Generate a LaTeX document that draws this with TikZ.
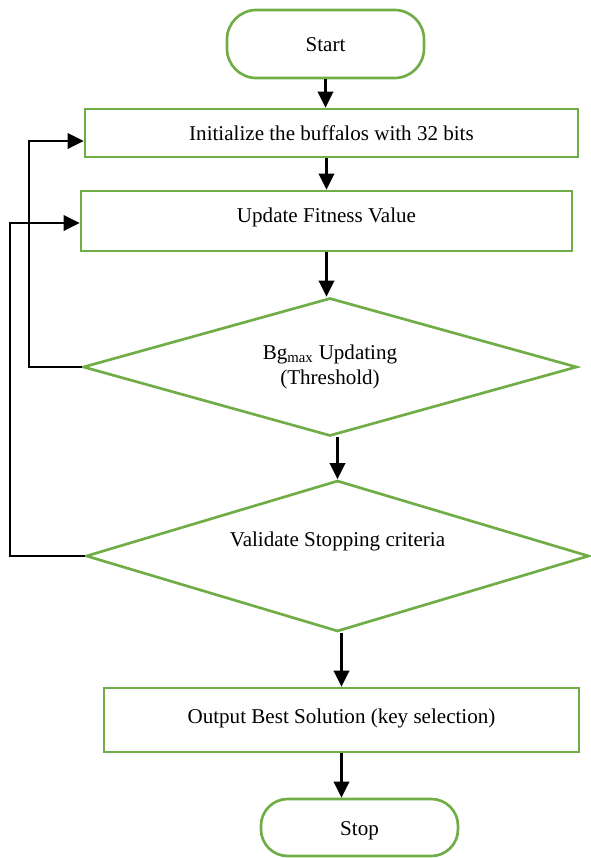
\documentclass[tikz,border=0pt]{standalone}
\usepackage{fontspec}
\setmainfont{Liberation Serif}
\usetikzlibrary{arrows.meta,shapes.geometric}
\definecolor{boxgreen}{HTML}{70AD47}
\begin{document}
\begin{tikzpicture}[x=0.75pt,y=-0.75pt,
  every node/.style={font=\fontsize{15.8}{19}\selectfont, inner sep=0pt},
  oneline/.style={text height=15pt, text depth=3.5pt},
  term/.style={draw=boxgreen, line width=2pt, rectangle, rounded corners=22pt, minimum width=147.75pt, oneline},
  proc/.style={draw=boxgreen, line width=2pt, rectangle, oneline},
  dec/.style={draw=boxgreen, line width=2pt, diamond, align=center},
  arr/.style={draw=black, line width=2pt, -{Triangle[length=12pt,width=11.5pt]}}]
\useasboundingbox (0,0) rectangle (590,858);
\node[term, minimum height=51pt] (start) at (325.5,44) {Start};
\node[proc, minimum width=369.75pt, minimum height=36pt] (b1) at (331.5,133) {Initialize the buffalos with 32 bits};
\node[proc, minimum width=368.25pt, minimum height=45pt, text depth=12.5pt] (b2) at (326.5,221) {Update Fitness Value};
\node[dec, minimum width=370.5pt, minimum height=103.5pt, aspect=3.58] (d1) at (330,367) {Bg\textsubscript{max} Updating\\(Threshold)};
\node[dec, minimum width=377.25pt, minimum height=113.25pt, aspect=3.34, oneline, text depth=29pt] (d2) at (337.5,556) {Validate Stopping criteria};
\node[proc, minimum width=356.25pt, minimum height=48pt, text depth=9.5pt] (b3) at (341.5,720) {Output Best Solution (key selection)};
\node[term, minimum height=42.75pt, rounded corners=20pt] (stop) at (359.5,827.5) {Stop};
\coordinate (lt1) at (29,141);
\coordinate (lt2) at (10,223);
\draw[arr] (start.south) -- (start.south |- b1.north);
\draw[arr] (b2.north |- b1.south) -- (b2.north);
\draw[arr] (b2.south) -- (b2.south |- d1.north);
\draw[arr] (d2.north |- d1.south) -- (d2.north);
\draw[arr] (b3.north |- d2.south) -- (b3.north);
\draw[arr] (b3.south) -- (b3.south |- stop.north);
\draw[arr] (d1.west) -- (d1.west -| lt1) -- (lt1) -- (lt1 -| b1.west);
\draw[arr] (d2.west) -- (d2.west -| lt2) -- (lt2) -- (lt2 -| b2.west);
\end{tikzpicture}
\end{document}
